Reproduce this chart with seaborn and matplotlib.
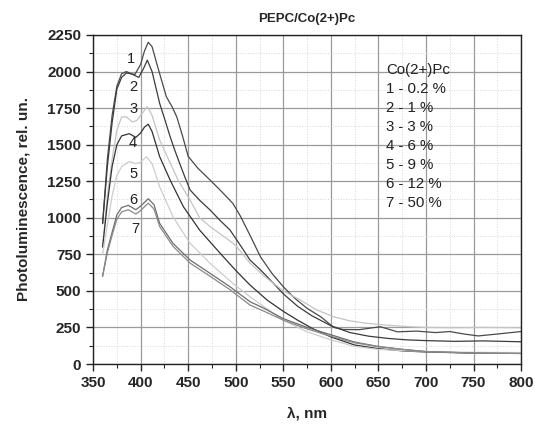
import numpy as np
import pandas as pd
import matplotlib
matplotlib.use("Agg")
import matplotlib.pyplot as plt
from matplotlib.ticker import MultipleLocator
import seaborn as sns

# wavelength (nm) / intensity pairs, one curve per concentration
wl1 = [360, 365, 370, 375, 380, 385, 390, 394, 400, 404, 408, 412, 418, 427, 433, 438, 444, 450, 460, 473, 485, 497, 505, 515, 526, 538, 550, 562, 575, 590, 603, 613, 630, 652, 670, 690, 710, 725, 740, 755, 775, 800]
pl1 = [960, 1400, 1700, 1900, 1985, 2000, 1985, 1980, 2050, 2140, 2200, 2170, 2030, 1828, 1760, 1690, 1560, 1420, 1340, 1258, 1180, 1098, 1010, 880, 733, 620, 528, 450, 381, 320, 250, 236, 235, 255, 220, 225, 215, 222, 205, 192, 205, 222]

wl2 = [360, 365, 370, 375, 380, 385, 390, 398, 403, 407, 412, 420, 426, 431, 436, 441, 447, 452, 462, 473, 483, 494, 505, 515, 525, 533, 550, 565, 580, 600, 620, 640, 660, 680, 700, 730, 760, 800]
pl2 = [960, 1350, 1650, 1880, 1960, 1990, 1985, 1960, 2020, 2078, 2000, 1782, 1660, 1554, 1460, 1372, 1270, 1190, 1120, 1053, 985, 916, 810, 711, 650, 597, 480, 395, 330, 262, 215, 190, 175, 165, 160, 155, 158, 152]

wl3 = [360, 365, 370, 375, 380, 385, 391, 396, 400, 407, 412, 420, 428, 440, 452, 462, 475, 490, 500, 515, 530, 550, 568, 585, 603, 620, 638, 660, 683, 700, 730, 760, 800]
pl3 = [800, 1150, 1400, 1600, 1690, 1690, 1656, 1665, 1700, 1760, 1700, 1531, 1417, 1250, 1121, 1000, 930, 860, 810, 690, 600, 500, 437, 370, 323, 295, 278, 265, 255, 250, 248, 250, 248]

wl4 = [360, 365, 370, 375, 380, 388, 395, 400, 404, 408, 412, 420, 431, 445, 462, 475, 487, 500, 515, 533, 550, 565, 580, 600, 625, 650, 675, 700, 750, 800]
pl4 = [800, 1100, 1350, 1500, 1560, 1575, 1550, 1580, 1620, 1640, 1590, 1418, 1258, 1075, 916, 820, 733, 640, 540, 437, 360, 300, 245, 185, 130, 105, 90, 82, 75, 73]

wl5 = [360, 365, 370, 375, 380, 388, 395, 400, 406, 412, 420, 434, 452, 473, 497, 515, 530, 550, 575, 600, 625, 650, 700, 750, 800]
pl5 = [750, 950, 1150, 1290, 1350, 1385, 1370, 1380, 1418, 1370, 1212, 1007, 825, 688, 551, 460, 390, 300, 220, 165, 120, 100, 85, 80, 78]

wl6 = [360, 365, 370, 375, 380, 387, 395, 400, 408, 414, 420, 434, 452, 473, 494, 515, 530, 550, 575, 600, 625, 650, 675, 700, 750, 800]
pl6 = [600, 780, 900, 1020, 1070, 1085, 1055, 1080, 1130, 1090, 962, 825, 711, 620, 528, 426, 380, 310, 250, 200, 150, 120, 100, 85, 75, 72]

wl7 = [360, 365, 370, 375, 380, 387, 395, 400, 408, 414, 420, 434, 452, 473, 494, 515, 530, 550, 575, 600, 625, 650, 675, 700, 750, 800]
pl7 = [600, 760, 880, 990, 1040, 1055, 1025, 1050, 1100, 1060, 940, 805, 690, 600, 508, 403, 360, 300, 240, 190, 145, 118, 100, 85, 75, 72]

curve_ids = ["1", "2", "3", "4", "5", "6", "7"]
legend_lines = ["Co(2+)Pc", "1 - 0.2 %", "2 - 1 %", "3 - 3 %", "4 - 6 %", "5 - 9 %", "6 - 12 %", "7 - 50 %"]

frames = []
for cid, wl, pl in zip(curve_ids, [wl1, wl2, wl3, wl4, wl5, wl6, wl7],
                       [pl1, pl2, pl3, pl4, pl5, pl6, pl7]):
    frames.append(pd.DataFrame({"wl": wl, "pl": pl, "curve": cid}))
df = pd.concat(frames, ignore_index=True)

sns.set_style("ticks")
plt.rcParams["font.family"] = ["Liberation Sans", "DejaVu Sans"]

fig = plt.figure(figsize=(5.35, 4.24), dpi=100)
ax = fig.add_axes([0.174, 0.1415, 0.80, 0.776])

palette = {"1": "#4a4a4a", "2": "#3c3c3c", "3": "#c4c4c4", "4": "#333333",
           "5": "#cdcdcd", "6": "#6e6e6e", "7": "#8a8a8a"}
sns.lineplot(data=df, x="wl", y="pl", hue="curve", palette=palette,
             linewidth=0.9, legend=False, ax=ax, sort=False)

ax.set_xlim(350, 800)
ax.set_ylim(0, 2250)
ax.xaxis.set_major_locator(MultipleLocator(50))
ax.xaxis.set_minor_locator(MultipleLocator(25))
ax.yaxis.set_major_locator(MultipleLocator(250))
ax.yaxis.set_minor_locator(MultipleLocator(125))
ax.grid(which="major", color="#9a9a9a", linewidth=0.9)
ax.grid(which="minor", color="#d8d8d8", linewidth=0.7, linestyle=":")
ax.set_axisbelow(True)
ax.tick_params(which="major", direction="out", length=5, width=1, labelsize=11)
ax.tick_params(which="minor", direction="out", length=3, width=0.8)
for lbl in ax.get_xticklabels() + ax.get_yticklabels():
    lbl.set_fontweight("bold")
for sp in ax.spines.values():
    sp.set_color("#222222")
    sp.set_linewidth(1.0)

ax.set_xlabel("λ, nm", fontsize=11, fontweight="bold", labelpad=12)
ax.set_ylabel("Photoluminescence, rel. un.", fontsize=11, fontweight="bold", labelpad=12)
ax.set_title("PEPC/Co(2+)Pc", fontsize=9.5, fontweight="bold", pad=9)

# curve numbers
num_x = [390, 392, 392, 392, 393, 392, 394]
num_y = [2083, 1891, 1743, 1508, 1299, 1121, 923]
for cid, nx, ny in zip(curve_ids, num_x, num_y):
    ax.text(nx, ny, cid, fontsize=10.5, ha="center", va="center", color="#222222")

for i, line in enumerate(legend_lines):
    ax.text(658, 2011 - i * 130, line, fontsize=10.8, ha="left", va="center", color="#222222")

fig.savefig("out.png", dpi=100)
